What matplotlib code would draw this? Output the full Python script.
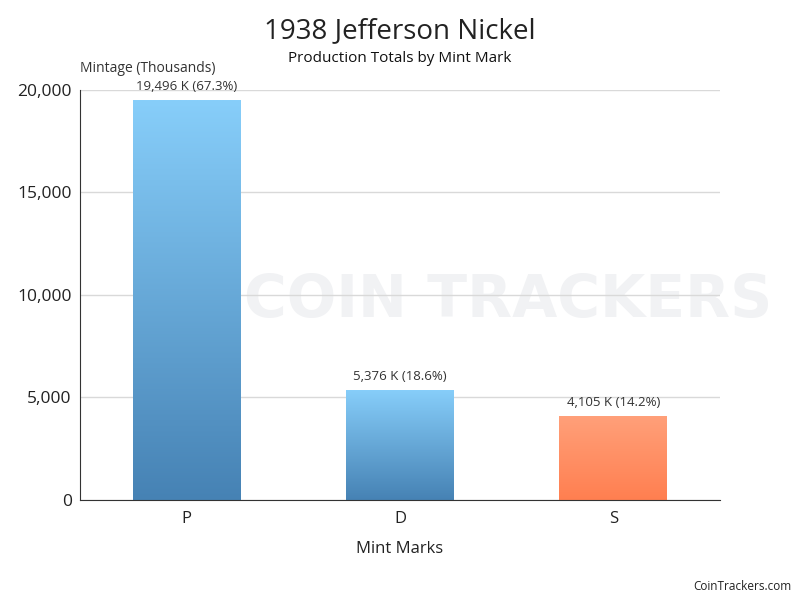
import numpy as np
import matplotlib.pyplot as plt
from matplotlib.colors import LinearSegmentedColormap

plt.rcParams['font.family'] = ['Open Sans', 'DejaVu Sans']

marks = ['P', 'D', 'S']
mintage = [19496, 5376, 4105]
labels = ['19,496 K (67.3%)', '5,376 K (18.6%)', '4,105 K (14.2%)']
yticks = [0, 5000, 10000, 15000, 20000]

fig = plt.figure(figsize=(8, 6), dpi=100)

# faint watermark behind the chart
fig.text(0.305, 0.5, 'COIN TRACKERS', ha='left', va='center', fontsize=42,
         fontweight='bold', family='DejaVu Sans', color='#f1f2f4', zorder=-5)

ax = fig.add_axes([0.1, 0.1667, 0.8, 0.6833])

blue = LinearSegmentedColormap.from_list('b', ['#4682b4', '#87cefa'])
orange = LinearSegmentedColormap.from_list('o', ['#ff7f50', '#ffa07a'])
cmaps = [blue, blue, orange]

bars = ax.bar(range(len(marks)), mintage, width=0.506, color='none', zorder=2)
grad = np.linspace(0, 1, 256).reshape(-1, 1)
for b, cm, lab in zip(bars, cmaps, labels):
    x0, w, h = b.get_x(), b.get_width(), b.get_height()
    im = ax.imshow(grad, cmap=cm, aspect='auto', origin='lower',
                   extent=[x0, x0 + w, 0, h], zorder=2)
    im.set_clip_path(b)
    ax.text(x0 + w / 2, h + 350, lab, ha='center', va='bottom', fontsize=9.5,
            color='#333333', clip_on=False)

ax.set_xlim(-0.5, 2.5)
ax.set_ylim(0, 20000)
ax.set_yticks(yticks)
ax.set_yticklabels([f'{v:,}' for v in yticks], fontsize=12.5, color='#222222')
ax.set_xticks(range(len(marks)))
ax.set_xticklabels(marks, fontsize=12, color='#222222')
ax.tick_params(axis='y', length=0, pad=6)
ax.tick_params(axis='x', length=0, pad=8)
ax.yaxis.grid(True, color='#d9d9d9', linewidth=1)
ax.set_axisbelow(True)
for s in ['top', 'right']:
    ax.spines[s].set_visible(False)
ax.spines['left'].set_color('#333333')
ax.spines['bottom'].set_color('#333333')
ax.patch.set_alpha(0)

ax.set_xlabel('Mint Marks', fontsize=12, color='#222222', labelpad=10)
ax.text(0, 1.035, 'Mintage (Thousands)', transform=ax.transAxes, ha='left',
        va='bottom', fontsize=10, color='#333333')

fig.text(0.5, 0.948, '1938 Jefferson Nickel', ha='center', va='center',
         fontsize=20, color='#222222')
fig.text(0.5, 0.903, 'Production Totals by Mint Mark', ha='center', va='center',
         fontsize=11, color='#111111')
fig.text(0.99, 0.022, 'CoinTrackers.com', ha='right', va='center',
         fontsize=8.5, color='#222222')

fig.savefig('out.png', dpi=100)
